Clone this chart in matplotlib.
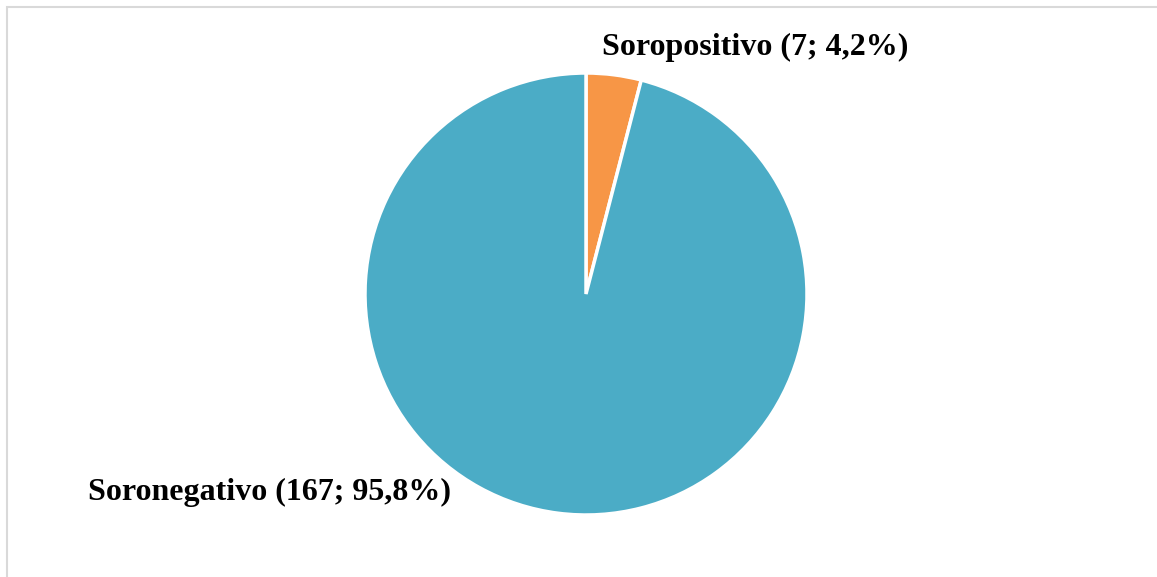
import matplotlib.pyplot as plt
from matplotlib.patches import Rectangle

labels = ["Soropositivo", "Soronegativo"]
counts = [7, 167]
percents = ["4,2%", "95,8%"]
colors = ["#F79646", "#4BACC6"]

W, H = 1157, 577
fig = plt.figure(figsize=(W / 100, H / 100), dpi=100)
ax = fig.add_axes([0, 0, 1, 1])
ax.set_xlim(0, W)
ax.set_ylim(0, H)
ax.set_aspect("equal")
ax.axis("off")

# chart frame (only top/left edges fall inside the image)
ax.add_patch(Rectangle((6.5, -10), W + 20, H - 6.5 + 10, fill=False,
                       edgecolor="#D9D9D9", linewidth=1.5))

ax.pie(counts, colors=colors, startangle=90, counterclock=False,
       center=(586, H - 294), radius=221,
       wedgeprops=dict(edgecolor="white", linewidth=2.5))
ax.set_xlim(0, W)
ax.set_ylim(0, H)

font = dict(family="Liberation Serif", weight="bold", size=23)
label_pos = [(755, H - 47), (270, H - 492)]
for name, n, p, (x, y) in zip(labels, counts, percents, label_pos):
    ax.text(x, y, f"{name} ({n}; {p})", ha="center", va="center", **font)

fig.savefig("out.png", dpi=100)
